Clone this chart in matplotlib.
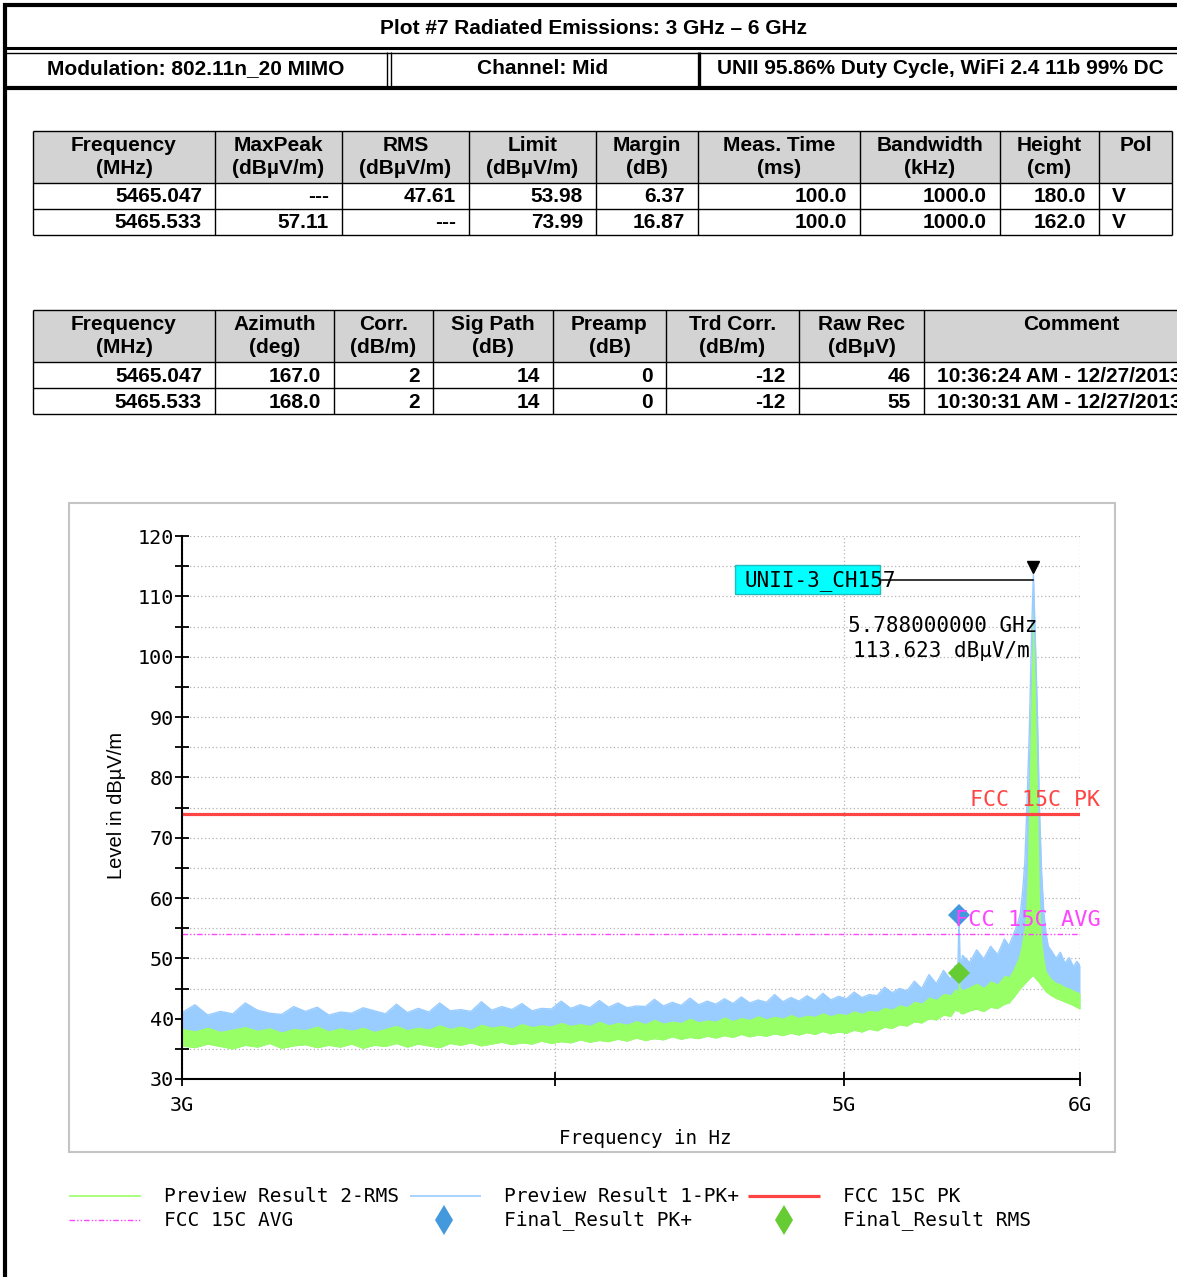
import numpy as np
import matplotlib.pyplot as plt
from matplotlib.patches import Rectangle
from matplotlib.lines import Line2D
from matplotlib.ticker import FixedLocator, MultipleLocator, NullLocator

W, H = 1177, 1277

# ---- header text ----
title = "Plot #7 Radiated Emissions: 3 GHz \u2013 6 GHz"
modulation = "Modulation: 802.11n_20 MIMO"
channel = "Channel: Mid"
duty = "UNII 95.86% Duty Cycle, WiFi 2.4 11b 99% DC"

# ---- table 1 ----
t1_head = ["Frequency\n(MHz)", "MaxPeak\n(dBµV/m)", "RMS\n(dBµV/m)", "Limit\n(dBµV/m)",
           "Margin\n(dB)", "Meas. Time\n(ms)", "Bandwidth\n(kHz)", "Height\n(cm)", "Pol\n"]
t1_freq = ["5465.047", "5465.533"]
t1_maxpeak = ["---", "57.11"]
t1_rms = ["47.61", "---"]
t1_limit = ["53.98", "73.99"]
t1_margin = ["6.37", "16.87"]
t1_meas_time = ["100.0", "100.0"]
t1_bandwidth = ["1000.0", "1000.0"]
t1_height = ["180.0", "162.0"]
t1_pol = ["V", "V"]

# ---- table 2 ----
t2_head = ["Frequency\n(MHz)", "Azimuth\n(deg)", "Corr.\n(dB/m)", "Sig Path\n(dB)",
           "Preamp\n(dB)", "Trd Corr.\n(dB/m)", "Raw Rec\n(dBµV)", "Comment\n"]
t2_azimuth = ["167.0", "168.0"]
t2_corr = ["2", "2"]
t2_sigpath = ["14", "14"]
t2_preamp = ["0", "0"]
t2_trdcorr = ["-12", "-12"]
t2_rawrec = ["46", "55"]
t2_comment = ["10:36:24 AM - 12/27/2013", "10:30:31 AM - 12/27/2013"]

# ---- spectrum traces (MHz, dBµV/m) ----
freq_mhz = [3000, 3030, 3060, 3090, 3120, 3150, 3180, 3210, 3240, 3270,
            3300, 3330, 3360, 3390, 3420, 3450, 3480, 3510, 3540, 3570,
            3600, 3630, 3660, 3690, 3720, 3750, 3780, 3810, 3840, 3870,
            3900, 3930, 3960, 3990, 4020, 4050, 4080, 4110, 4140, 4170,
            4200, 4230, 4260, 4290, 4320, 4350, 4380, 4410, 4440, 4470,
            4500, 4530, 4560, 4590, 4620, 4650, 4680, 4710, 4740, 4770,
            4800, 4830, 4860, 4890, 4920, 4950, 4980, 5010, 5040, 5070,
            5100, 5130, 5160, 5190, 5220, 5250, 5280, 5310, 5340, 5370,
            5400, 5430,
            5450, 5460, 5465, 5470, 5480, 5510, 5540, 5570, 5600, 5630,
            5660, 5680, 5700, 5710, 5720, 5730, 5740, 5750, 5760, 5770,
            5780, 5788, 5795, 5805, 5815, 5825, 5835, 5845, 5855, 5870,
            5890, 5910, 5930, 5950, 5970, 5985, 6000]

pk_hi = [41.0, 42.3, 40.6, 41.2, 40.8, 42.6, 41.4, 40.9, 40.7, 42.0,
         41.2, 41.9, 40.6, 41.1, 40.9, 41.8, 41.3, 40.8, 42.4, 41.0,
         41.7, 41.1, 42.6, 41.3, 41.5, 41.2, 42.8, 41.4, 42.0, 41.5,
         42.5, 41.3, 41.7, 41.6, 42.9, 41.7, 42.3, 41.8, 43.0, 41.9,
         42.6, 41.8, 42.1, 42.0, 43.2, 42.1, 42.7, 42.2, 43.4, 42.3,
         42.9, 42.4, 43.3, 42.5, 43.6, 42.6, 43.1, 42.7, 44.0, 42.8,
         43.5, 42.9, 43.8, 43.0, 44.2, 43.1, 43.7, 43.3, 44.4, 43.5,
         44.0, 43.8, 45.2, 44.3, 45.0, 44.6, 46.2, 45.0, 47.3, 45.8,
         48.0, 46.5,
         48.8, 47.5, 57.1, 48.2, 50.5, 49.3, 51.4, 49.9, 52.0, 50.6,
         53.2, 52.1, 54.0, 55.0, 56.0, 57.5, 61.0, 66.0, 76.0, 88.0,
         104.0, 113.6, 105.0, 92.0, 75.0, 64.0, 57.5, 54.0, 52.0, 51.2,
         50.0, 51.0, 49.2, 50.1, 48.6, 49.5, 48.8]

rms_hi = [38.4, 38.0, 38.6, 37.9, 38.3, 38.7, 38.1, 38.5, 37.8, 38.4,
          38.2, 38.8, 38.0, 38.5, 38.1, 38.6, 37.9, 38.4, 38.9, 38.2,
          38.6, 38.3, 39.0, 38.4, 38.8, 38.3, 39.1, 38.6, 38.9, 38.5,
          39.2, 38.7, 39.0, 38.8, 39.4, 38.9, 39.2, 38.9, 39.6, 39.0,
          39.4, 39.1, 39.7, 39.2, 39.9, 39.3, 39.6, 39.4, 40.1, 39.5,
          39.8, 39.6, 40.3, 39.7, 40.2, 39.9, 40.5, 40.0, 40.4, 40.1,
          40.7, 40.2, 40.6, 40.4, 41.0, 40.5, 40.9, 40.7, 41.3, 40.9,
          41.4, 41.2, 41.9, 41.6, 42.3, 42.0, 42.9, 42.6, 43.6, 43.2,
          44.2, 44.0,
          45.0, 44.6, 47.6, 45.2, 44.8, 45.3, 45.9, 45.2, 46.3, 45.8,
          47.2, 47.0, 48.3, 49.2, 50.0, 51.5, 53.5, 55.5, 63.0, 80.0,
          98.0, 108.0, 97.0, 80.0, 60.0, 53.0, 50.0, 48.0, 47.3, 46.6,
          46.0, 45.8, 45.3, 45.1, 44.7, 44.5, 44.2]

rms_lo = [35.5, 35.2, 35.8, 35.4, 35.0, 35.6, 35.3, 35.9, 35.1, 35.5,
          35.7, 35.2, 35.6, 35.3, 35.8, 35.1, 35.6, 35.4, 35.9, 35.3,
          35.8, 35.5, 35.2, 35.9, 35.6, 36.0, 35.5, 35.8, 36.1, 35.7,
          36.0, 35.8, 36.3, 35.9, 36.2, 36.0, 36.5, 36.1, 36.4, 36.2,
          36.6, 36.3, 36.8, 36.4, 36.7, 36.5, 37.0, 36.6, 36.9, 36.7,
          37.1, 36.8, 37.2, 36.9, 37.4, 37.0, 37.3, 37.1, 37.5, 37.2,
          37.6, 37.3, 37.7, 37.4, 37.9, 37.5, 37.8, 37.6, 38.1, 37.8,
          38.3, 38.0, 38.6, 38.4, 39.0, 38.8, 39.5, 39.3, 40.0, 39.8,
          40.6, 40.4,
          41.5, 41.2, 41.8, 41.0, 40.8, 41.3, 41.6, 41.2, 41.9, 41.7,
          42.4, 42.6, 43.5, 44.0, 44.5, 45.0, 45.4, 45.8, 46.2, 46.6,
          47.0, 47.2, 46.8, 46.4, 46.0, 45.5, 45.0, 44.5, 44.2, 43.8,
          43.4, 43.1, 42.8, 42.5, 42.2, 41.9, 41.6]

limit_pk = 73.99
limit_avg = 53.98
final_pk_freq = [5465.533]
final_pk = [57.11]
final_rms_freq = [5465.047]
final_rms = [47.61]
peak_freq = 5788.0
peak_level = 113.623

BLUE = "#99ccff"
GREEN = "#99ff66"
RED = "#ff4444"
MAGENTA = "#ff44ff"
MONO = "DejaVu Sans Mono"
ARIAL = ["Liberation Sans", "DejaVu Sans"]


def fx(x):
    return x / W


def fy(y):
    return 1 - y / H


fig = plt.figure(figsize=(W / 100, H / 100), dpi=100)


def hline(x0, x1, y, lw=1.0, color="black"):
    fig.add_artist(Line2D([fx(x0), fx(x1)], [fy(y), fy(y)], lw=lw, color=color,
                          solid_capstyle="butt"))


def vline(x, y0, y1, lw=1.0, color="black"):
    fig.add_artist(Line2D([fx(x), fx(x)], [fy(y0), fy(y1)], lw=lw, color=color,
                          solid_capstyle="butt"))


# ---- page header ----
hline(3, W, 5, lw=3)
vline(5, 3, H, lw=3)
hline(5, W, 48, lw=2.2)
hline(5, W, 52.5, lw=1)
hline(5, W, 87.5, lw=3)
vline(386.5, 52, 86, lw=1)
vline(390.5, 52, 86, lw=1)
vline(698.5, 52, 86, lw=2.4)
head_kw = dict(ha="center", va="center", fontsize=15, fontweight="bold", family=ARIAL)
fig.text(fx(593), fy(28), title, **head_kw)
fig.text(fx(196), fy(69), modulation, **head_kw)
fig.text(fx(543), fy(69), channel, **head_kw)
fig.text(fx(940), fy(69), duty, **head_kw)


def draw_table(edges, top, heads, columns, aligns, head_h=52, row_h=26):
    nrows = len(columns[0])
    bottom = top + head_h + row_h * nrows
    fig.add_artist(Rectangle((fx(edges[0]), fy(top + head_h)), (edges[-1] - edges[0]) / W,
                             head_h / H, facecolor="#d3d3d3", edgecolor="none"))
    for y in [top, top + head_h] + [top + head_h + row_h * (i + 1) for i in range(nrows)]:
        hline(edges[0], edges[-1], y, lw=1)
    for x in edges:
        vline(x, top, bottom, lw=1)
    for i, head in enumerate(heads):
        cx = (edges[i] + edges[i + 1]) / 2
        fig.text(fx(cx), fy(top + 26), head, ha="center", va="center", fontsize=15,
                 fontweight="bold", family=ARIAL, linespacing=1.25)
    for i, col in enumerate(columns):
        for r, val in enumerate(col):
            cy = top + head_h + row_h * r + row_h / 2 + 1
            if aligns[i] == "right":
                x, ha = edges[i + 1] - 13, "right"
            else:
                x, ha = edges[i] + 13, "left"
            fig.text(fx(x), fy(cy), val, ha=ha, va="center", fontsize=15, fontweight="bold",
                     family=ARIAL)


draw_table([33, 215, 342, 469, 596, 698, 860, 1000, 1099, 1172], 131, t1_head,
           [t1_freq, t1_maxpeak, t1_rms, t1_limit, t1_margin, t1_meas_time,
            t1_bandwidth, t1_height, t1_pol],
           ["right"] * 8 + ["left"])
draw_table([33, 215, 334, 433, 553, 666, 799, 924, 1218], 310, t2_head,
           [t1_freq, t2_azimuth, t2_corr, t2_sigpath, t2_preamp, t2_trdcorr,
            t2_rawrec, t2_comment],
           ["right"] * 7 + ["left"])

# ---- chart panel ----
fig.add_artist(Rectangle((fx(69), fy(1152)), (1115 - 69) / W, (1152 - 503) / H,
                         facecolor="white", edgecolor="#c4c4c4", lw=1.5, zorder=0))

ax = fig.add_axes([fx(182), fy(1079), (1080 - 182) / W, (1079 - 536) / H])
ax.set_xscale("log")
ax.set_xlim(3000, 6000)
ax.set_ylim(30, 120)

ax.fill_between(freq_mhz, rms_lo, pk_hi, color=BLUE, lw=0, zorder=2)
ax.fill_between(freq_mhz, rms_lo, rms_hi, color=GREEN, lw=0, zorder=3)
ax.plot(freq_mhz, pk_hi, color=BLUE, lw=1.0, zorder=4)
ax.plot(freq_mhz, rms_lo, color=GREEN, lw=1.0, zorder=4)
ax.plot([3000, 6000], [limit_pk, limit_pk], color=RED, lw=2.3, zorder=5)
ax.plot([3000, 6000], [limit_avg, limit_avg], color=MAGENTA, lw=1.0,
        dashes=(4, 1.5, 1, 1.5, 1, 1.5), zorder=5)
ax.plot(final_pk_freq, final_pk, "D", color="#4499dd", ms=11, mew=0, zorder=6)
ax.plot(final_rms_freq, final_rms, "D", color="#66cc33", ms=11, mew=0, zorder=6)

ax.text(5510, 76.2, "FCC 15C PK", color=RED, fontsize=15.5, va="center", ha="left",
        family=MONO, zorder=7)
ax.text(5449, 56.4, "FCC 15C AVG", color=MAGENTA, fontsize=15.8, va="center", ha="left",
        family=MONO, zorder=7)

# peak marker annotation
ax.plot([peak_freq], [114.9], "v", color="black", ms=9, zorder=8)
ax.plot([5142, peak_freq], [112.7, 112.7], color="black", lw=1.1, zorder=7)
ax.add_patch(Rectangle((4597, 110.4), 5142 - 4597, 4.8, facecolor="#00ffff",
                       edgecolor="#22bbbb", lw=1, zorder=7))
ax.text(4630, 112.7, "UNII-3_CH157", fontsize=15, va="center", ha="left", family=MONO,
        zorder=8)
ax.text(5017, 105.1, f"{peak_freq / 1000:.9f} GHz", fontsize=15, va="center", ha="left",
        family=MONO, zorder=8)
ax.text(5036, 100.9, f"{peak_level:.3f} dBµV/m", fontsize=15, va="center", ha="left",
        family=MONO, zorder=8)

ax.xaxis.set_major_locator(FixedLocator([3000, 4000, 5000, 6000]))
ax.xaxis.set_minor_locator(NullLocator())
ax.set_xticklabels(["3G", "", "5G", "6G"])
ax.yaxis.set_major_locator(MultipleLocator(10))
ax.yaxis.set_minor_locator(MultipleLocator(5))

for s in ["top", "right"]:
    ax.spines[s].set_visible(False)
for s in ["left", "bottom"]:
    ax.spines[s].set_linewidth(1.5)
    ax.spines[s].set_zorder(9)

ax.tick_params(axis="both", which="both", direction="inout", length=10, width=1.3,
               labelsize=14.5, colors="black")
for lab in ax.get_xticklabels() + ax.get_yticklabels():
    lab.set_family(MONO)
ax.tick_params(axis="y", pad=0.5)
ax.tick_params(axis="x", pad=7)
ax.grid(True, which="major", axis="x", color="#b4b4b4", lw=0.9, dashes=(1, 2), zorder=1)
ax.grid(True, which="both", axis="y", color="#b4b4b4", lw=0.9, dashes=(1, 2), zorder=1)
ax.set_axisbelow(True)

fig.text(fx(117), fy(805), "Level in dBµV/m", rotation=90, ha="center", va="center",
         fontsize=14.5, family=ARIAL)
fig.text(fx(645), fy(1138), "Frequency in Hz", ha="center", va="center", fontsize=13.8,
         family=MONO)

# ---- legend ----
legend_y1, legend_y2 = 1196, 1220
hline(69, 141, legend_y1, lw=1.2, color=GREEN)
hline(410, 481, legend_y1, lw=1.2, color=BLUE)
hline(748, 820, legend_y1, lw=2.3, color=RED)
fig.add_artist(Line2D([fx(69), fx(141)], [fy(legend_y2)] * 2, lw=1.0, color=MAGENTA,
                      dashes=(4, 1.5, 1, 1.5, 1, 1.5)))
fig.add_artist(Line2D([fx(444)], [fy(legend_y2)], marker="d", ms=15, mew=0, color="#4499dd"))
fig.add_artist(Line2D([fx(784)], [fy(legend_y2)], marker="d", ms=15, mew=0, color="#66cc33"))
legend_items = [(164, legend_y1, "Preview Result 2-RMS"), (504, legend_y1, "Preview Result 1-PK+"),
                (843, legend_y1, "FCC 15C PK"), (164, legend_y2, "FCC 15C AVG"),
                (504, legend_y2, "Final_Result PK+"), (843, legend_y2, "Final_Result RMS")]
for x, y, label in legend_items:
    fig.text(fx(x), fy(y), label, ha="left", va="center", fontsize=14, family=MONO)

fig.savefig("out.png", dpi=100)
